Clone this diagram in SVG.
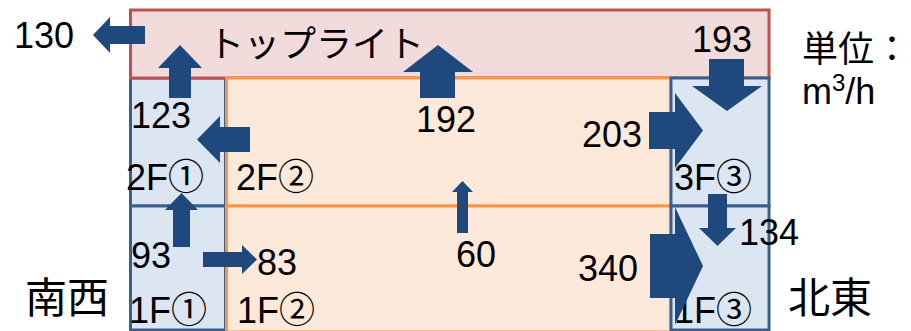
<svg xmlns="http://www.w3.org/2000/svg" width="911" height="331" viewBox="0 0 911 331">
<style>
.t{font-family:"Liberation Sans","Noto Sans CJK JP",sans-serif;font-size:36px;fill:#000}
.j{font-family:"Noto Sans CJK JP",sans-serif;font-size:36px;fill:#000}
.top{fill:#F2DCDB;stroke:#C0504D;stroke-width:3}
.blue{fill:#DCE6F2;stroke:#3A5F8F;stroke-width:3}
.org{fill:#FDE9D9;stroke:#F79646;stroke-width:3}
.ar{fill:#1F497D}
</style>
<rect width="911" height="331" fill="#fff"/>
<g id="room-2F1"><rect class="blue" x="130.5" y="78" width="95" height="128"/></g>
<g id="room-1F1"><rect class="blue" x="130.5" y="206" width="95" height="124"/></g>
<g id="toplight"><rect class="top" x="130.5" y="10" width="638.5" height="68"/><text class="j" x="208" y="57">トップライト</text></g>
<g id="room-2F2"><rect class="org" x="226.5" y="78" width="444.5" height="128"/></g>
<g id="room-1F2"><rect class="org" x="226.5" y="206" width="444.5" height="126"/></g>
<g id="room-3F3"><rect class="blue" x="671" y="78" width="98" height="128"/></g>
<g id="room-1F3"><rect class="blue" x="671" y="206" width="98" height="124"/></g>
<g id="room-labels">
<text class="t" x="126" y="190">2F①</text>
<text class="t" x="236" y="190">2F②</text>
<text class="t" x="674" y="190">3F③</text>
<text class="t" x="129" y="323">1F①</text>
<text class="t" x="237" y="323">1F②</text>
<text class="t" x="674" y="323">1F③</text>
</g>
<g id="connectors">
<polygon class="ar" points="145,26 110,26 110,17 93,35 110,53 110,44 145,44"/>
<polygon class="ar" points="169,98 169,68 158,68 180,45 202,68 191,68 191,98"/>
<polygon class="ar" points="250,127 220,127 220,116 197,139.5 220,163 220,152 250,152"/>
<polygon class="ar" points="173,247 173,210 165,210 181.5,193 198,210 190,210 190,247"/>
<polygon class="ar" points="203,252 242,252 242,245 257,259.5 242,274 242,267 203,267"/>
<polygon class="ar" points="420,98 420,72 403,72 438,45 473,72 455,72 455,98"/>
<polygon class="ar" points="457,233 457,192 452,192 462.5,181 473,192 468,192 468,233"/>
<polygon class="ar" points="709,59 744,59 744,86 762,86 727,111 692,86 709,86"/>
<polygon class="ar" points="649,112 675,112 675,93 703,130.5 675,168 675,149 649,149"/>
<polygon class="ar" points="708,194 727,194 727,228 736,228 717.5,246 699,228 708,228"/>
<polygon class="ar" points="650,234 675,234 675,207 703,266 675,325 675,298 650,298"/>
<text class="t" x="14" y="48">130</text>
<text class="t" x="131" y="128">123</text>
<text class="t" x="416" y="132">192</text>
<text class="t" x="692" y="52">193</text>
<text class="t" x="582" y="147">203</text>
<text class="t" x="131" y="268">93</text>
<text class="t" x="257" y="275">83</text>
<text class="t" x="456" y="267">60</text>
<text class="t" x="739" y="245">134</text>
<text class="t" x="578" y="281">340</text>
</g>
<g id="legend">
<text class="j" x="802" y="62">単位：</text>
<text class="t" x="802" y="104">m<tspan font-size="24" dy="-13">3</tspan><tspan dy="13">/h</tspan></text>
<text class="j" x="25" y="313" style="font-size:42px">南西</text>
<text class="j" x="788" y="313" style="font-size:42px">北東</text>
</g>
</svg>
